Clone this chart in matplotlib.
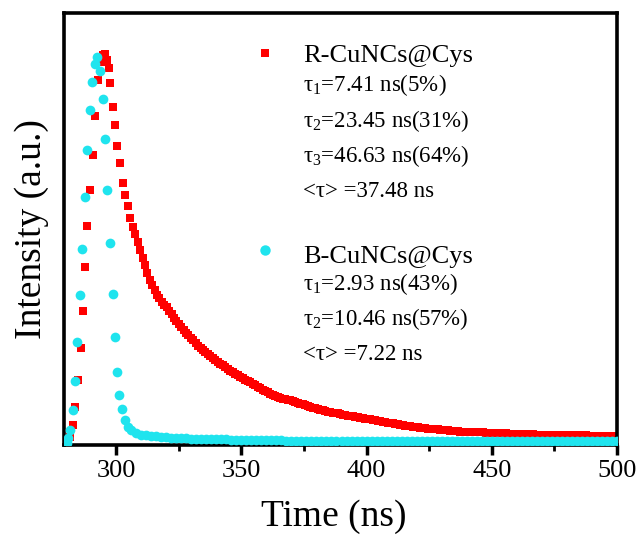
import numpy as np
import matplotlib.pyplot as plt
from matplotlib.ticker import MultipleLocator

plt.rcParams['font.family'] = 'Liberation Serif'
plt.rcParams['mathtext.fontset'] = 'custom'
plt.rcParams['mathtext.rm'] = 'Liberation Serif'
plt.rcParams['mathtext.it'] = 'Liberation Serif:italic'

# R-CuNCs@Cys, rise + peak + fast decay (read point by point, ~1 ns channels)
t_red_head = [280.6, 281.6, 282.9, 283.6, 284.9, 285.9, 286.7, 287.6, 288.5, 289.6,
              290.7, 291.6, 292.9, 293.8, 294.8, 295.6, 296.3, 297.0, 297.6, 298.9,
              299.6, 300.5, 301.6, 302.7, 303.6, 304.7, 305.6, 306.7,
              307.7, 308.6, 309.6, 310.6, 311.5, 312.5, 313.5, 314.4, 315.4, 316.4,
              317.3, 318.3, 319.3, 320.2, 321.2, 322.2, 323.1, 324.1, 325.1, 326.0,
              327.0, 328.0, 328.9, 329.9, 330.9, 331.8, 332.8, 333.8, 334.7, 335.7,
              336.7, 337.6, 338.6, 339.6, 340.5]
i_red_head = [0.008, 0.019, 0.046, 0.089, 0.150, 0.224, 0.311, 0.413, 0.507, 0.590,
              0.671, 0.762, 0.845, 0.887, 0.903, 0.905, 0.891, 0.872, 0.838, 0.782,
              0.741, 0.692, 0.653, 0.606, 0.579, 0.553, 0.526, 0.505,
              0.488, 0.470, 0.452, 0.434, 0.416, 0.398, 0.383, 0.370, 0.358, 0.348,
              0.340, 0.332, 0.325, 0.319, 0.311, 0.303, 0.295, 0.288, 0.281, 0.274,
              0.267, 0.260, 0.254, 0.248, 0.242, 0.236, 0.230, 0.225, 0.220, 0.215,
              0.210, 0.205, 0.201, 0.197, 0.193]
# R-CuNCs@Cys, slow tail, 1 ns channels from 341.5 ns
t_red_tail = np.arange(341.5, 500, 1.0)
i_red_tail = [0.188, 0.184, 0.180, 0.176, 0.172, 0.168, 0.165, 0.161, 0.158, 0.154,
              0.151, 0.148, 0.145, 0.141, 0.138, 0.134, 0.131, 0.128, 0.125, 0.122,
              0.119, 0.116, 0.114, 0.111, 0.109, 0.107, 0.106, 0.104, 0.103, 0.101,
              0.100, 0.098, 0.096, 0.094, 0.092, 0.090, 0.088, 0.086, 0.085, 0.083,
              0.082, 0.080, 0.079, 0.077, 0.076, 0.075, 0.074, 0.073, 0.072, 0.070,
              0.069, 0.068, 0.067, 0.066, 0.065, 0.064, 0.063, 0.062, 0.061, 0.060,
              0.059, 0.058, 0.057, 0.056, 0.055, 0.054, 0.053, 0.052, 0.051, 0.050,
              0.049, 0.048, 0.047, 0.046, 0.045, 0.044, 0.043, 0.042, 0.041, 0.041,
              0.040, 0.039, 0.039, 0.038, 0.037, 0.037, 0.036, 0.036, 0.035, 0.035,
              0.034, 0.034, 0.033, 0.033, 0.032, 0.032, 0.031, 0.031, 0.031, 0.030,
              0.030, 0.030, 0.030, 0.029, 0.029, 0.029, 0.028, 0.028, 0.028, 0.028,
              0.027, 0.027, 0.027, 0.027, 0.027, 0.026, 0.026, 0.026, 0.026, 0.026,
              0.025, 0.025, 0.025, 0.025, 0.025, 0.025, 0.024, 0.024, 0.024, 0.024,
              0.024, 0.024, 0.023, 0.023, 0.023, 0.023, 0.023, 0.023, 0.023, 0.022,
              0.022, 0.022, 0.022, 0.022, 0.022, 0.022, 0.022, 0.021, 0.021, 0.021,
              0.021, 0.021, 0.021, 0.021, 0.021, 0.020, 0.020, 0.020, 0.020]

# B-CuNCs@Cys
t_cyan_head = [279.6, 280.3, 280.9, 281.6, 282.7, 283.6, 284.5, 285.6, 286.3, 287.6,
               288.5, 289.6, 290.3, 291.4, 292.3, 293.5, 294.6, 295.6, 296.5, 297.6,
               298.7, 299.6, 300.5, 301.3, 302.3, 303.6, 304.9]
i_cyan_head = [0.003, 0.005, 0.016, 0.035, 0.081, 0.147, 0.239, 0.347, 0.453, 0.575,
               0.683, 0.775, 0.840, 0.882, 0.899, 0.865, 0.801, 0.709, 0.591, 0.468,
               0.350, 0.251, 0.170, 0.116, 0.083, 0.058, 0.042]
t_cyan_tail = np.arange(306, 501, 2)
i_cyan_tail = [0.034, 0.028, 0.024, 0.022, 0.021, 0.020, 0.019, 0.018, 0.017, 0.017,
               0.016, 0.016, 0.015, 0.015, 0.014, 0.014, 0.014, 0.013,
               0.013, 0.013, 0.012, 0.012, 0.012,
               0.012, 0.012, 0.011, 0.011, 0.011, 0.011, 0.011, 0.011, 0.010, 0.010,
               0.010, 0.010, 0.010, 0.010, 0.010, 0.010, 0.010, 0.010, 0.010, 0.010,
               0.010, 0.010, 0.010, 0.010, 0.010,
               0.010, 0.010, 0.010, 0.010, 0.010, 0.010, 0.010, 0.010, 0.010, 0.010,
               0.010, 0.010, 0.010, 0.010, 0.010, 0.010, 0.010, 0.010, 0.010, 0.010,
               0.009, 0.009, 0.009, 0.009, 0.009, 0.009, 0.009, 0.009, 0.009, 0.009,
               0.009, 0.009, 0.009, 0.009, 0.009, 0.009, 0.009, 0.009, 0.009, 0.009,
               0.009, 0.009, 0.009, 0.009, 0.009, 0.009, 0.009, 0.009, 0.009, 0.009]

red_label = 'R-CuNCs@Cys'
red_lines = ['τ$_{1}$=7.41 ns(5%)', 'τ$_{2}$=23.45 ns(31%)', 'τ$_{3}$=46.63 ns(64%)',
             '<τ> =37.48 ns']
cyan_label = 'B-CuNCs@Cys'
cyan_lines = ['τ$_{1}$=2.93 ns(43%)', 'τ$_{2}$=10.46 ns(57%)', '<τ> =7.22 ns']

RED = '#ff0000'
CYAN = '#1fe4ee'

t_red = np.concatenate([t_red_head, t_red_tail])
i_red = np.concatenate([i_red_head, i_red_tail])
t_cyan = np.concatenate([t_cyan_head, t_cyan_tail])
i_cyan = np.concatenate([i_cyan_head, i_cyan_tail])

fig = plt.figure(figsize=(6.41, 5.38), dpi=100)
ax = fig.add_axes([0.0998, 0.1729, 0.8628, 0.8029])

ax.plot(t_red, i_red, 's', color=RED, ms=6.2, mew=0, zorder=2)
ax.plot(t_cyan, i_cyan, 'o', color=CYAN, ms=7, mew=0, zorder=3)

ax.set_xlim(279.2, 500)
ax.set_ylim(0, 1)
ax.set_yticks([])
ax.xaxis.set_major_locator(MultipleLocator(50))
ax.xaxis.set_minor_locator(MultipleLocator(25))
ax.tick_params(axis='x', which='major', direction='out', length=7, width=2.5,
               labelsize=19, pad=4)
ax.tick_params(axis='x', which='minor', direction='out', length=4, width=2)
for s in ax.spines.values():
    s.set_linewidth(2.6)

ax.set_xlabel('Time (ns)', fontsize=27, labelpad=12)
ax.xaxis.label.set_x(0.488)
ax.set_ylabel('Intensity (a.u.)', fontsize=27, labelpad=11)

# legend block, drawn by hand
tx = 0.432
ax.plot([0.3635], [0.907], 's', color=RED, ms=6, mew=0, transform=ax.transAxes, clip_on=False)
ax.plot([0.3635], [0.451], 'o', color=CYAN, ms=7.5, mew=0, transform=ax.transAxes, clip_on=False)
ax.text(tx, 0.8858, red_label, fontsize=19, transform=ax.transAxes, va='baseline')
for txt, y in zip(red_lines, [0.8194, 0.7368, 0.6558, 0.5748]):
    ax.text(tx, y, txt, fontsize=16.5, transform=ax.transAxes, va='baseline')
ax.text(tx, 0.4206, cyan_label, fontsize=19, transform=ax.transAxes, va='baseline')
for txt, y in zip(cyan_lines, [0.3588, 0.2778, 0.1968]):
    ax.text(tx, y, txt, fontsize=16.5, transform=ax.transAxes, va='baseline')

fig.savefig('out.png', dpi=100)
